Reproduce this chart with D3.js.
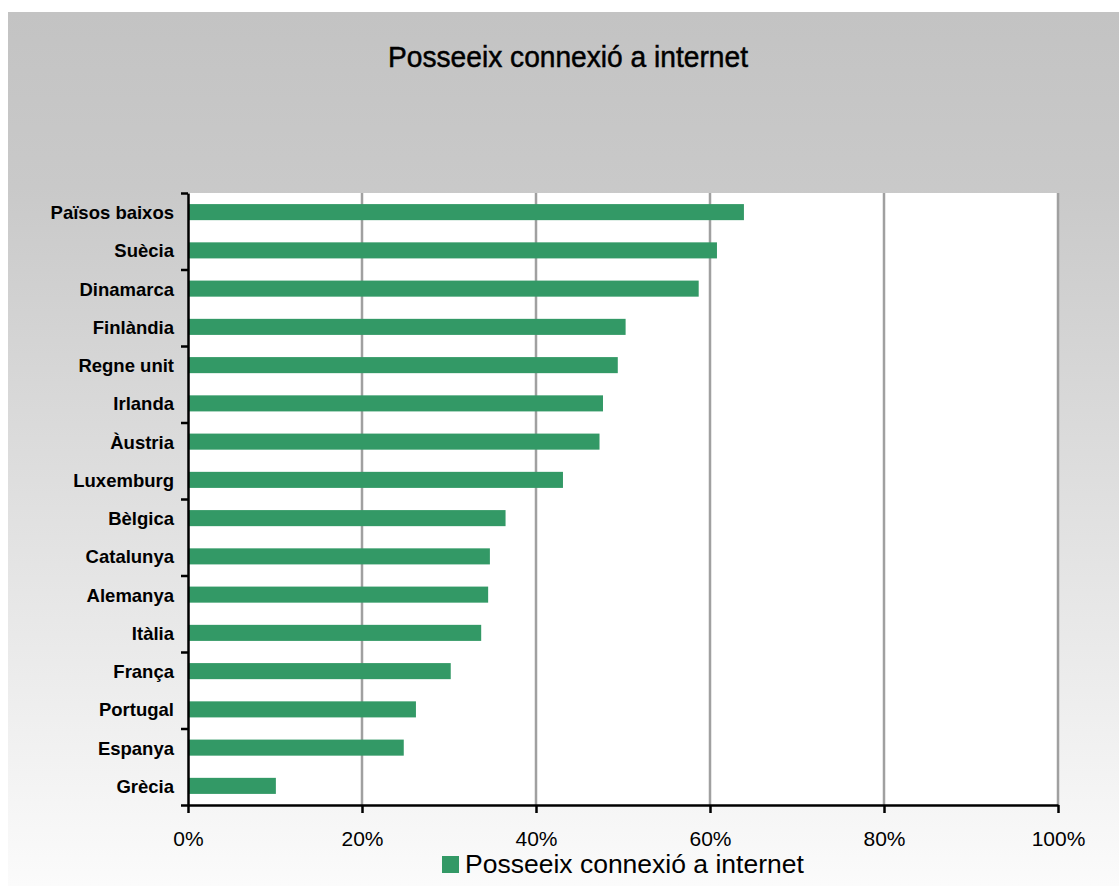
<!DOCTYPE html>
<html>
<head>
<meta charset="utf-8">
<script src="https://cdn.jsdelivr.net/npm/d3@7"></script>
<style>
html,body{margin:0;padding:0;background:#fff;}
svg{display:block;}
</style>
</head>
<body>
<svg id="chart" width="1119" height="886"></svg>
<script>
const categories = ["Països baixos","Suècia","Dinamarca","Finlàndia","Regne unit","Irlanda","Àustria","Luxemburg","Bèlgica","Catalunya","Alemanya","Itàlia","França","Portugal","Espanya","Grècia"];
const values = [63.9,60.8,58.7,50.3,49.4,47.7,47.3,43.1,36.5,34.7,34.5,33.7,30.2,26.2,24.8,10.1];
const xTicks = [0,20,40,60,80,100];
const seriesName = "Posseeix connexió a internet";
const chartTitle = "Posseeix connexió a internet";

(function(){
const svg = d3.select("#chart");
const defs = svg.append("defs");
const grad = defs.append("linearGradient").attr("id","bg").attr("x1",0).attr("y1",0).attr("x2",0).attr("y2",1);
grad.append("stop").attr("offset","0").attr("stop-color","#c3c3c3");
grad.append("stop").attr("offset","0.2").attr("stop-color","#c9c9c9");
grad.append("stop").attr("offset","1").attr("stop-color","#fbfbfb");

svg.append("rect").attr("x",8).attr("y",12).attr("width",1111).attr("height",874).attr("fill","url(#bg)");

const pL = 188, pR = 1058, pT = 193, pB = 805;
const x = d3.scaleLinear().domain([0,100]).range([pL,pR]);
const y = d3.scaleBand().domain(categories).range([pT,pB]).paddingInner(0.58).paddingOuter(0.29);
const yIdx = d3.scaleLinear().domain([0,categories.length]).range([pT,pB]);

svg.append("rect").attr("x",pL).attr("y",pT).attr("width",pR-pL).attr("height",pB-pT).attr("fill","#fff");

svg.append("g").selectAll("line").data(xTicks.filter(d=>d>0)).join("line")
  .attr("x1",d=>x(d)).attr("x2",d=>x(d)).attr("y1",pT).attr("y2",pB)
  .attr("stroke","#a0a0a0").attr("stroke-width",2.5);

svg.append("g").selectAll("rect").data(categories).join("rect")
  .attr("x",x(0)).attr("y",d=>y(d)).attr("height",y.bandwidth())
  .attr("width",(d,i)=>x(values[i])-x(0)).attr("fill","#339966");

const xAxis = svg.append("g").attr("transform",`translate(0,${pB})`)
  .call(d3.axisBottom(x).tickValues(xTicks).tickFormat(d=>d+"%").tickSize(8).tickSizeOuter(0));
xAxis.select(".domain").attr("stroke","#000").attr("stroke-width",2.5);
xAxis.selectAll(".tick line").attr("stroke","#000").attr("stroke-width",2.5);
xAxis.selectAll(".tick text").attr("font-family","Liberation Sans, Arial, sans-serif").attr("font-size",21).attr("fill","#000").attr("dy",null).attr("y",41);

const yAxisT = svg.append("g").attr("transform",`translate(${pL},0)`)
  .call(d3.axisLeft(yIdx).tickValues(d3.range(0,categories.length+1,2)).tickFormat("").tickSize(7).tickSizeOuter(0));
yAxisT.select(".domain").attr("stroke","#000").attr("stroke-width",2.5);
yAxisT.selectAll(".tick line").attr("stroke","#000").attr("stroke-width",2.5);

const yAxisL = svg.append("g").attr("transform",`translate(${pL},0)`)
  .call(d3.axisLeft(y).tickSize(0).tickPadding(14));
yAxisL.select(".domain").remove();
yAxisL.selectAll(".tick text").attr("font-family","Liberation Sans, Arial, sans-serif").attr("font-weight","bold").attr("font-size",18.5).attr("fill","#000").attr("dy","0.38em");

svg.append("text").attr("x",568).attr("y",67).attr("text-anchor","middle")
  .attr("font-family","Liberation Sans, Arial, sans-serif").attr("font-weight","normal").attr("font-size",30)
  .attr("stroke","#000").attr("stroke-width",0.5)
  .attr("textLength",360).attr("lengthAdjust","spacingAndGlyphs")
  .attr("fill","#000").text(chartTitle);

const lg = svg.append("g");
lg.append("rect").attr("x",442).attr("y",856).attr("width",17).attr("height",17).attr("fill","#339966");
lg.append("text").attr("x",465).attr("y",873).attr("font-family","Liberation Sans, Arial, sans-serif").attr("font-size",26.5).attr("fill","#000").text(seriesName);
})();
</script>
</body>
</html>
